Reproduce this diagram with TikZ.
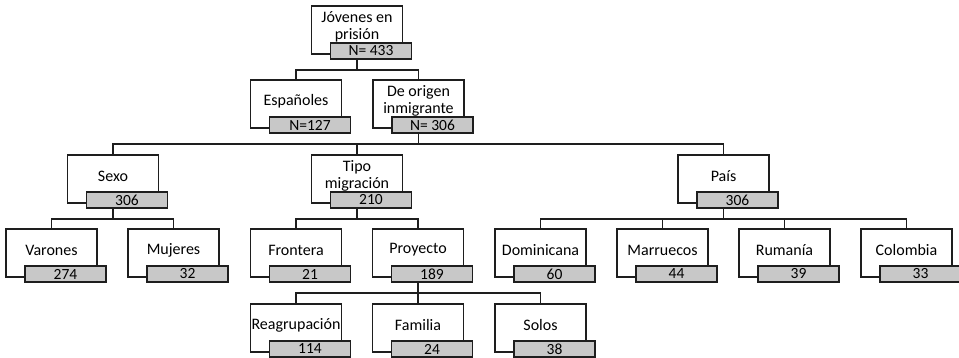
\documentclass[tikz,border=0pt]{standalone}
\usepackage{fontspec}
\setmainfont{Carlito}
\definecolor{boxgray}{RGB}{200,200,200}
\definecolor{linecol}{RGB}{30,30,30}
\tikzset{
  every picture/.style={x=1bp,y=-1bp},
  wbox/.style={draw=linecol, fill=white, line width=1.2bp, minimum width=91bp, minimum height=48bp, inner sep=0pt, outer sep=0pt},
  gbox/.style={draw=linecol, fill=boxgray, line width=1.2bp, minimum width=81bp, minimum height=16bp, inner sep=0pt, outer sep=0pt, font=\fontsize{15.5bp}{16bp}\selectfont},
  tlab/.style={align=center, inner sep=0pt, font=\fontsize{16bp}{16.5bp}\selectfont},
  conn/.style={draw=linecol, line width=1.2bp}
}
\newcommand\orgbox[5]{% name, cx, top, label, number
  \node[wbox] (#1) at (#2,#3+24) {};
  \node[tlab] (#1t) at (#2,#3+21) {#4};
  \node[gbox] (#1g) at (#2+14,#3+45) {#5};
  \coordinate (#1b) at (#2,#3+64);
}
\begin{document}
\begin{tikzpicture}
\useasboundingbox (0,0) rectangle (959,357);
% boxes
\orgbox{root}{357}{6}{Jóvenes en\\prisión}{N= 433}
\orgbox{esp}{296}{80}{Españoles}{N=127}
\orgbox{ori}{418.5}{80}{De origen\\inmigrante}{N= 306}
\orgbox{sexo}{113}{155}{Sexo}{306}
\orgbox{tipo}{357}{155}{Tipo\\migración}{210}
\orgbox{pais}{723.5}{155}{País}{306}
\orgbox{var}{51.5}{229}{Varones}{274}
\orgbox{muj}{173.5}{229}{Mujeres}{32}
\orgbox{fro}{296}{229}{Frontera}{21}
\orgbox{pro}{418}{229}{Proyecto}{189}
\orgbox{dom}{540.5}{229}{Dominicana}{60}
\orgbox{mar}{662.5}{229}{Marruecos}{44}
\orgbox{rum}{784.5}{229}{Rumanía}{39}
\orgbox{col}{906.5}{229}{Colombia}{33}
\orgbox{rea}{296}{304}{Reagrupación}{114}
\orgbox{fam}{418}{304}{Familia}{24}
\orgbox{sol}{540.5}{304}{Solos}{38}
% connectors
\draw[conn] (root.center |- rootg.south) -- (rootb);
\draw[conn] (esp.north) |- (rootb);
\draw[conn] (ori.north) |- (rootb);
\draw[conn] (ori.center |- orig.south) -- (orib);
\draw[conn] (sexo.north) |- (orib);
\draw[conn] (tipo.north) |- (orib);
\draw[conn] (pais.north) |- (orib);
\draw[conn] (sexo.center |- sexog.south) -- (sexob);
\draw[conn] (var.north) |- (sexob);
\draw[conn] (muj.north) |- (sexob);
\draw[conn] (tipo.center |- tipog.south) -- (tipob);
\draw[conn] (fro.north) |- (tipob);
\draw[conn] (pro.north) |- (tipob);
\draw[conn] (pais.center |- paisg.south) -- (paisb);
\draw[conn] (dom.north) |- (paisb);
\draw[conn] (mar.north) |- (paisb);
\draw[conn] (rum.north) |- (paisb);
\draw[conn] (col.north) |- (paisb);
\draw[conn] (pro.center |- prog.south) -- (prob);
\draw[conn] (rea.north) |- (prob);
\draw[conn] (fam.north) |- (prob);
\draw[conn] (sol.north) |- (prob);
\end{tikzpicture}
\end{document}
